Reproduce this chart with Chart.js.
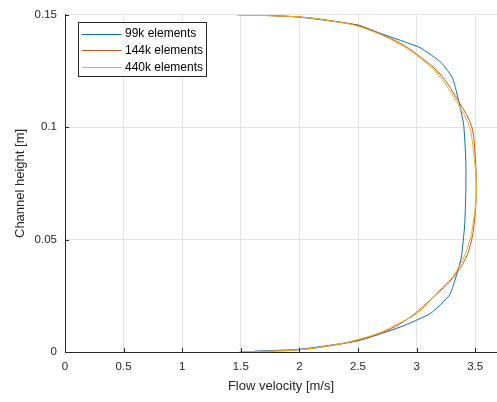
<!DOCTYPE html>
<html>
<head>
<meta charset="utf-8">
<script src="https://cdn.jsdelivr.net/npm/chart.js@4/dist/chart.umd.min.js"></script>
<style>
  html, body { margin: 0; padding: 0; background: #fff; }
  #wrap { width: 497px; height: 402px; }
</style>
</head>
<body>
<div id="wrap"><canvas id="myChart" width="497" height="402"></canvas></div>
<script>
// series labels
var seriesNames = ['99k elements', '144k elements', '440k elements'];
var seriesColors = ['#0072BD', '#D95319', '#EDB120'];

// 99k elements: velocity [m/s] vs channel height [m]
var vel99 = [1.62, 2.0, 2.5, 2.86, 3.12, 3.285, 3.38, 3.41, 3.42, 3.42, 3.40, 3.31, 3.21, 3.03, 2.69, 2.5, 2.0, 1.68];
var h99 = [0.0004, 0.0012, 0.005, 0.0111, 0.0172, 0.0257, 0.0418, 0.0564, 0.0711, 0.085, 0.1018, 0.1215, 0.1288, 0.1354, 0.1418, 0.1455, 0.149, 0.1499];

// 144k elements
var vel144 = [1.49, 2.0, 2.35, 2.5, 2.7, 2.86, 3.0, 3.14, 3.2, 3.31, 3.42, 3.47, 3.49, 3.507, 3.51, 3.50, 3.47, 3.37, 3.2, 3.0, 2.86, 2.69, 2.5, 2.35, 2.0, 1.47];
var h144 = [0, 0.001, 0.0035, 0.0053, 0.0085, 0.0126, 0.0177, 0.0243, 0.0272, 0.033, 0.0418, 0.05, 0.0564, 0.0667, 0.075, 0.0871, 0.1003, 0.1105, 0.1237, 0.1325, 0.1374, 0.1415, 0.1452, 0.1468, 0.1491, 0.15];

// 440k elements
var vel440 = [1.5, 2.0, 2.33, 2.48, 2.68, 2.84, 3.0, 3.14, 3.19, 3.30, 3.40, 3.455, 3.48, 3.505, 3.51, 3.49, 3.45, 3.35, 3.18, 2.99, 2.84, 2.68, 2.48, 2.33, 2.0, 1.47];
var h440 = [0, 0.001, 0.0035, 0.0053, 0.0085, 0.0126, 0.017, 0.0243, 0.0272, 0.033, 0.0418, 0.05, 0.0564, 0.0667, 0.075, 0.0871, 0.1003, 0.1105, 0.1237, 0.1325, 0.1374, 0.1415, 0.1452, 0.1468, 0.1491, 0.15];

// tick labels
var xTicks = [0, 0.5, 1, 1.5, 2, 2.5, 3, 3.5];
var yTicks = [0, 0.05, 0.1, 0.15];

var fontFam = '"Liberation Sans", Arial, Helvetica, sans-serif';
var axisColor = '#262626';
var gridColor = '#e3e3e3';

function toPoints(xs, ys) {
  var pts = [];
  for (var i = 0; i < xs.length; i++) {
    pts.push({ x: xs[i], y: ys[i] });
  }
  return pts;
}

function makeSet(i, xs, ys, order, tension) {
  return {
    label: seriesNames[i],
    data: toPoints(xs, ys),
    borderColor: seriesColors[i],
    backgroundColor: seriesColors[i],
    borderWidth: 1,
    pointRadius: 0,
    tension: tension,
    fill: false,
    order: order
  };
}

// small inward tick marks on bottom and left axis
var innerTicks = {
  id: 'innerTicks',
  afterDatasetsDraw: function (chart) {
    var c = chart.ctx, a = chart.chartArea;
    var sx = chart.scales.x, sy = chart.scales.y;
    c.save();
    c.strokeStyle = axisColor;
    c.lineWidth = 1;
    c.beginPath();
    xTicks.forEach(function (v) {
      var px = Math.round(sx.getPixelForValue(v)) + 0.5;
      c.moveTo(px, a.bottom);
      c.lineTo(px, a.bottom - 4);
    });
    yTicks.forEach(function (v) {
      var py = Math.round(sy.getPixelForValue(v)) + 0.5;
      c.moveTo(a.left, py);
      c.lineTo(a.left + 4, py);
    });
    c.stroke();
    c.restore();
  }
};

// boxed legend in upper left corner of plot, like matlab
var boxLegend = {
  id: 'boxLegend',
  afterDraw: function (chart) {
    var c = chart.ctx;
    var x0 = 78.5, y0 = 22.5, w = 128, h = 54;
    c.save();
    c.fillStyle = '#fff';
    c.fillRect(x0, y0, w, h);
    c.strokeStyle = axisColor;
    c.lineWidth = 1;
    c.strokeRect(x0, y0, w, h);
    c.font = '12px ' + fontFam;
    c.textBaseline = 'middle';
    c.textAlign = 'left';
    chart.data.datasets.forEach(function (ds, i) {
      var yy = y0 + 11 + i * 16.7;
      c.strokeStyle = ds.borderColor;
      c.beginPath();
      c.moveTo(x0 + 3.5, Math.round(yy) + 0.5);
      c.lineTo(x0 + 43, Math.round(yy) + 0.5);
      c.stroke();
      c.fillStyle = '#000';
      c.fillText(ds.label, x0 + 46.5, yy + 0.5);
    });
    c.restore();
  }
};

var ctx = document.getElementById('myChart').getContext('2d');
var chart = new Chart(ctx, {
  type: 'line',
  data: {
    datasets: [
      makeSet(0, vel99, h99, 2, 0.15),
      makeSet(1, vel144, h144, 1, 0.35),
      makeSet(2, vel440, h440, 0, 0.35)
    ]
  },
  options: {
    responsive: false,
    devicePixelRatio: 1,
    animation: false,
    layout: { padding: { top: 10, right: 0, bottom: 0, left: 0 } },
    plugins: {
      legend: { display: false },
      tooltip: { enabled: false }
    },
    scales: {
      x: {
        type: 'linear',
        min: 0,
        max: 3.686,
        afterBuildTicks: function (scale) {
          scale.ticks = xTicks.map(function (v) { return { value: v }; });
        },
        afterFit: function (scale) { scale.height = 50; },
        grid: { color: gridColor, drawTicks: false, lineWidth: 1 },
        border: { color: axisColor, width: 1 },
        ticks: {
          color: axisColor,
          padding: 8,
          maxRotation: 0,
          font: { family: fontFam, size: 11.5 },
          callback: function (v) { return String(v); }
        },
        title: {
          display: true,
          text: 'Flow velocity [m/s]',
          color: axisColor,
          font: { family: fontFam, size: 13 },
          padding: { top: 0, bottom: 8 }
        }
      },
      y: {
        type: 'linear',
        min: 0,
        max: 0.15,
        afterBuildTicks: function (scale) {
          scale.ticks = yTicks.map(function (v) { return { value: v }; });
        },
        afterFit: function (scale) { scale.width = 65; },
        grid: { color: gridColor, drawTicks: false, lineWidth: 1 },
        border: { color: axisColor, width: 1 },
        ticks: {
          color: axisColor,
          padding: 8,
          font: { family: fontFam, size: 11.5 },
          callback: function (v) { return String(v); }
        },
        title: {
          display: true,
          text: 'Channel height [m]',
          color: axisColor,
          font: { family: fontFam, size: 13 },
          padding: { top: 13, bottom: 0 }
        }
      }
    }
  },
  plugins: [innerTicks, boxLegend]
});
</script>
</body>
</html>
